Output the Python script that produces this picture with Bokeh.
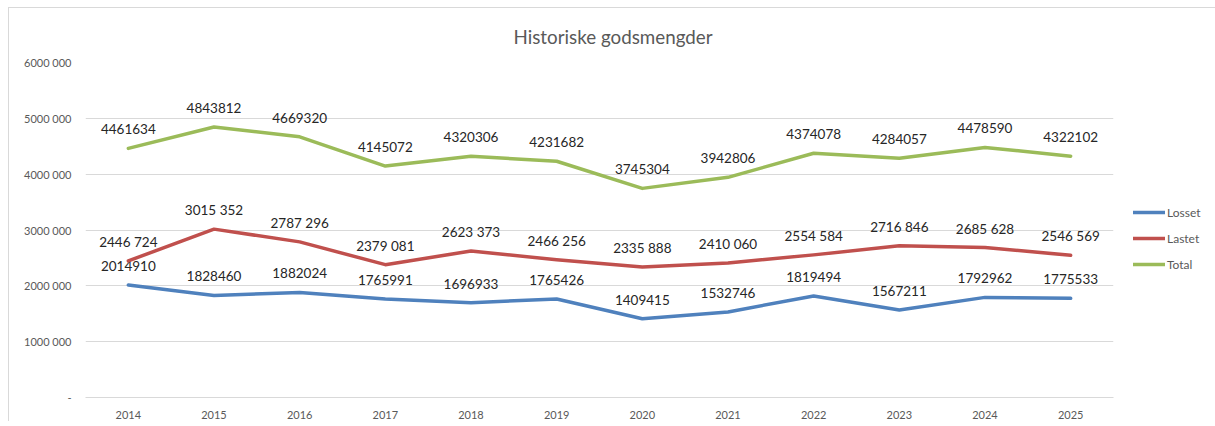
from bokeh.plotting import figure
from bokeh.models import (ColumnDataSource, FixedTicker, Legend, LegendItem, Title, Range1d, FactorRange)
from bokeh.core.properties import value
from bokeh.embed import file_html
from bokeh.resources import INLINE

years = ["2014", "2015", "2016", "2017", "2018", "2019", "2020", "2021", "2022", "2023", "2024", "2025"]
losset = [2014910, 1828460, 1882024, 1765991, 1696933, 1765426, 1409415, 1532746, 1819494, 1567211, 1792962, 1775533]
lastet = [2446724, 3015352, 2787296, 2379081, 2623373, 2466256, 2335888, 2410060, 2554584, 2716846, 2685628, 2546569]
total = [4461634, 4843812, 4669320, 4145072, 4320306, 4231682, 3745304, 3942806, 4374078, 4284057, 4478590, 4322102]
y_ticks = [0, 1000000, 2000000, 3000000, 4000000, 5000000, 6000000]
y_tick_labels = ["-", "1000 000", "2000 000", "3000 000", "4000 000", "5000 000", "6000 000"]
title_text = "Historiske godsmengder"

FONT = "Lato"
GRAY = "#595959"

p = figure(x_range=FactorRange(*years, range_padding=0), y_range=Range1d(0, 6000000),
           frame_width=1028, frame_height=335, output_backend="svg", toolbar_location=None,
           min_border_left=76, min_border_right=90, min_border_top=54, min_border_bottom=21)
p.styles = {"margin-left": "8px", "margin-top": "7px",
            "border-left": "1px solid #d9d9d9", "border-top": "1px solid #d9d9d9"}
p.outline_line_color = None
p.background_fill_color = "white"
p.border_fill_color = "white"

p.xgrid.grid_line_color = None
p.ygrid.grid_line_color = "#d9d9d9"
p.ygrid.grid_line_width = 1

p.yaxis.ticker = FixedTicker(ticks=y_ticks)
p.yaxis.major_label_overrides = {t: l for t, l in zip(y_ticks, y_tick_labels)}
p.yaxis.axis_line_color = None
p.yaxis.major_tick_line_color = None
p.yaxis.minor_tick_line_color = None
p.yaxis.major_label_standoff = 8
p.yaxis.major_label_text_font = FONT
p.yaxis.major_label_text_font_size = "11px"
p.yaxis.major_label_text_color = GRAY

p.xaxis.axis_line_color = "#d9d9d9"
p.xaxis.major_tick_line_color = None
p.xaxis.minor_tick_line_color = None
p.xaxis.major_label_standoff = 7
p.xaxis.major_label_text_font = FONT
p.xaxis.major_label_text_font_size = "11px"
p.xaxis.major_label_text_color = GRAY

def fmt_plain(v):
    return str(v)

def fmt_space(v):
    return f"{v // 1000} {v % 1000:03d}"

series = [
    ("Losset", losset, "#4F81BD", fmt_plain),
    ("Lastet", lastet, "#C0504D", fmt_space),
    ("Total", total, "#9BBB59", fmt_plain),
]

items = []
for name, vals, color, fmt in series:
    src = ColumnDataSource(dict(x=years, y=vals, lab=[fmt(v) for v in vals]))
    r = p.line("x", "y", source=src, line_color=color, line_width=3.5, line_join="round", line_cap="round")
    p.text("x", "y", text="lab", source=src, text_align="center", text_baseline="middle",
           y_offset=-19, text_font=value(FONT), text_font_size="13.5px", text_color="#262626")
    items.append(LegendItem(label=name, renderers=[r]))

legend = Legend(items=items, location=(20, 123), padding=0, margin=0, spacing=6,
                glyph_width=32, glyph_height=20, label_standoff=2,
                label_text_font=FONT, label_text_font_size="12px", label_text_color=GRAY,
                border_line_color=None, background_fill_alpha=0)
p.add_layout(legend, "right")

p.add_layout(Title(text=title_text, align="left", offset=428, standoff=26, vertical_align="top",
                   text_font=FONT, text_font_size="18.8px", text_color=GRAY,
                   text_font_style="normal"), "above")

open("out.html", "w").write(file_html(p, INLINE))
